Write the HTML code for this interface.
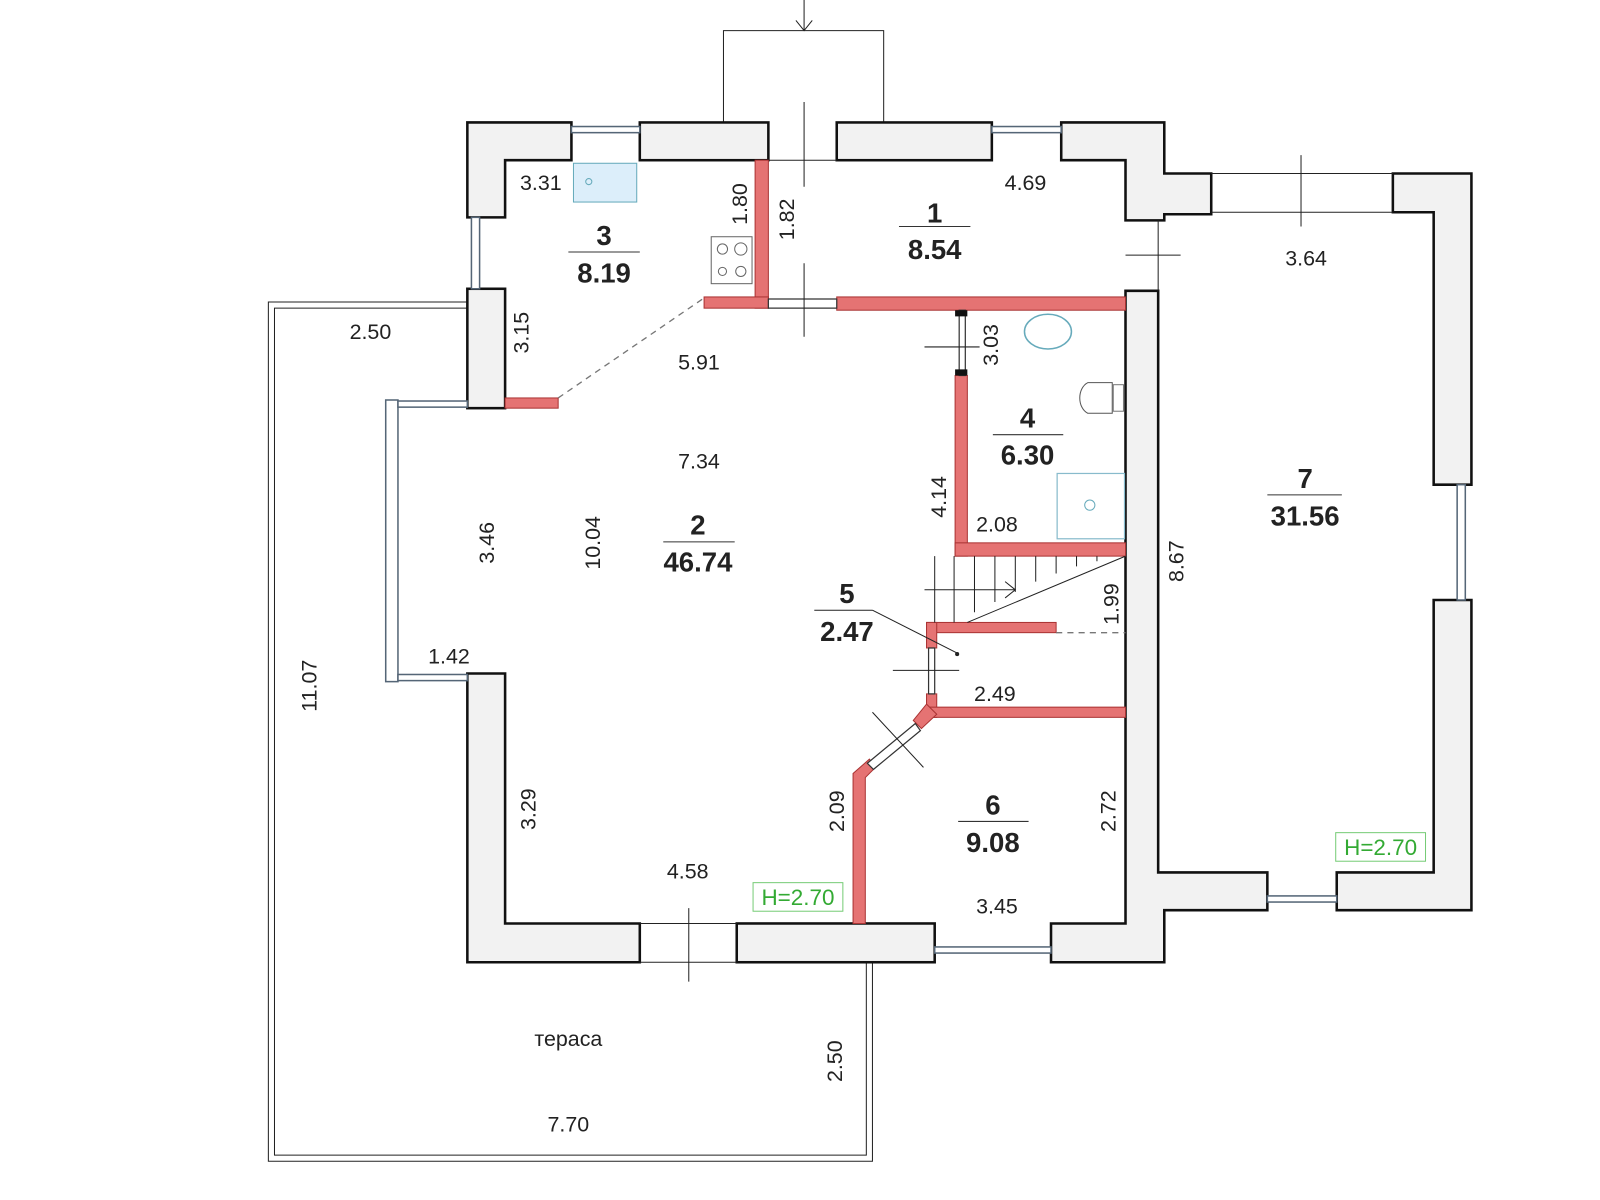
<!DOCTYPE html>
<html><head><meta charset="utf-8"><style>
html,body{margin:0;padding:0;background:#fff;}
svg{display:block}
text{font-family:"Liberation Sans",sans-serif;fill:#222}
.d{font-size:21px}
.n{font-size:27px;font-weight:bold}
.g{fill:#f2f2f2;stroke:#111;stroke-width:2.5}
.r{fill:#e57373;stroke:#a33;stroke-width:1}
.t{stroke:#222;stroke-width:1;fill:none}
.w{fill:#fff;stroke:#333;stroke-width:1.2}
.h{font-size:22px;fill:#3a3}
</style></head><body>
<svg width="1600" height="1200" viewBox="0 0 1568 1176" xmlns="http://www.w3.org/2000/svg">
<rect width="1568" height="1176" fill="#fff"/>
<path class="t" d="M458 296 H263 V1138 H855 V943" stroke-width="1.5"/>
<path class="t" d="M458 302 H269 V1132 H849 V943" stroke-width="1.5"/>
<path class="t" d="M709 120 V30 H866 V120" stroke-width="1.5"/>
<path class="t" d="M788 0 V30 M780 20 L788 30 L796 20"/>
<!-- outer walls -->
<path class="g" d="M458 120 H560 V157 H495 V213 H458 Z"/>
<rect class="g" x="627" y="120" width="126" height="37"/>
<rect class="g" x="820" y="120" width="152" height="37"/>
<path class="g" d="M1040 120 H1141 V170 H1187 V210 H1141 V216 H1103 V157 H1040 Z"/>
<path class="g" d="M1365 170 H1442 V475 H1405 V208 H1365 Z"/>
<path class="g" d="M1405 588 H1442 V892 H1310 V855 H1405 Z"/>
<path class="g" d="M1103 285 H1135 V855 H1242 V892 H1141 V943 H1030 V905 H1103 Z"/>
<rect class="g" x="458" y="283" width="37" height="117"/>
<path class="g" d="M458 660 H495 V905 H627 V943 H458 Z"/>
<rect class="g" x="722" y="905" width="194" height="38"/>
<!-- windows -->
<g stroke="#567" stroke-width="1.5" fill="#fff">
<rect x="560" y="124" width="67" height="6"/>
<rect x="972" y="124" width="68" height="6"/>
<rect x="462" y="213" width="8" height="70"/>
<rect x="378" y="392" width="12" height="276"/>
<rect x="390" y="393" width="68" height="6"/>
<rect x="390" y="661" width="68" height="6"/>
<rect x="1428" y="475" width="8" height="113"/>
<rect x="1242" y="878" width="68" height="6"/>
<rect x="916" y="928" width="114" height="6"/>
</g>
<path class="t" d="M1187 170 H1365 M1187 208 H1365 M1135 216 V285 M753 157 H820 M627 943 H722 M627 905 H722"/>
<!-- red partitions -->
<rect class="r" x="495" y="390" width="52" height="10"/>
<rect class="r" x="740" y="157" width="13" height="145"/>
<rect class="r" x="690" y="291" width="63" height="11"/>
<rect class="r" x="820" y="291" width="283" height="13"/>
<rect class="r" x="936" y="368" width="12" height="177"/>
<rect class="r" x="936" y="532" width="167" height="13"/>
<rect class="r" x="908" y="610" width="127" height="10"/>
<rect class="r" x="908" y="610" width="10" height="25"/>
<rect class="r" x="908" y="680" width="10" height="23"/>
<rect class="r" x="908" y="693" width="195" height="10"/>
<path class="r" d="M908 690 L918 700 L903 714 L895 706 Z"/>
<path class="r" d="M836 905 V758 L852 744 L858 752 L848 762 V905 Z"/>
<path class="w" d="M753 293 H820 V302 H753 Z M940 304 H946 V368 H940 Z M910 635 H916 V680 H910 Z M850 748 L897 709 L902 716 L856 754 Z"/>
<path d="M936 304 h12 v6 h-12z M936 362 h12 v6 h-12z" fill="#111"/>
<path d="M547 390 L690 292 M1035 620 H1103" stroke="#777" stroke-width="1.3" stroke-dasharray="6,5"/>
<g class="t">
<path d="M916 545 V610 M935 545 V610 M955 545 V600 M975 545 V590 M995 545 V580 M1015 545 V570 M1035 545 V562 M1055 545 V555 M1075 545 V550"/>
<path d="M948 610 L1103 545 M906 578 H995 M985 570 L995 578 L985 586"/>
<path d="M855 598 L938 640"/>
<path d="M798 598 H855"/>
</g>
<circle cx="938" cy="641" r="2" fill="#222"/>
<g class="t">
<path d="M788 100 V183 M788 258 V330 M1103 250 H1157 M1275 152 V222 M906 340 H960 M875 657 H940 M675 890 V962 M855 698 L905 752"/>
</g>
<rect x="562" y="160" width="62" height="38" fill="#dceefa" stroke="#6ab" stroke-width="1"/>
<circle cx="577" cy="178" r="3" fill="none" stroke="#6ab"/>
<rect x="697" y="232" width="40" height="46" fill="#fff" stroke="#666"/>
<circle cx="708" cy="244" r="5" fill="none" stroke="#666"/><circle cx="726" cy="244" r="6" fill="none" stroke="#666"/>
<circle cx="708" cy="266" r="4" fill="none" stroke="#666"/><circle cx="726" cy="266" r="5" fill="none" stroke="#666"/>
<ellipse cx="1027" cy="325" rx="23" ry="17" fill="none" stroke="#6ab" stroke-width="1.5"/>
<path d="M1090 375 H1066 A12 16 0 0 0 1066 405 H1090 Z" fill="#fff" stroke="#555"/>
<rect x="1091" y="377" width="10" height="26" fill="#fff" stroke="#777"/>
<rect x="1036" y="464" width="66" height="64" fill="#fff" stroke="#8bc" stroke-width="1.2"/>
<circle cx="1068" cy="495" r="5" fill="none" stroke="#6ab"/>
<text class="d" x="530" y="186" text-anchor="middle">3.31</text>
<text class="d" x="1005" y="186" text-anchor="middle">4.69</text>
<text class="d" x="1280" y="260" text-anchor="middle">3.64</text>
<text class="d" x="363" y="332" text-anchor="middle">2.50</text>
<text class="d" x="685" y="362" text-anchor="middle">5.91</text>
<text class="d" x="685" y="459" text-anchor="middle">7.34</text>
<text class="d" x="977" y="521" text-anchor="middle">2.08</text>
<text class="d" x="440" y="650" text-anchor="middle">1.42</text>
<text class="d" x="975" y="687" text-anchor="middle">2.49</text>
<text class="d" x="674" y="861" text-anchor="middle">4.58</text>
<text class="d" x="977" y="895" text-anchor="middle">3.45</text>
<text class="d" x="557" y="1025" text-anchor="middle">тераса</text>
<text class="d" x="557" y="1109" text-anchor="middle">7.70</text>
<g class="d" text-anchor="middle">
<text transform="translate(732,200) rotate(-90)">1.80</text>
<text transform="translate(778,215) rotate(-90)">1.82</text>
<text transform="translate(518,326) rotate(-90)">3.15</text>
<text transform="translate(978,338) rotate(-90)">3.03</text>
<text transform="translate(927,487) rotate(-90)">4.14</text>
<text transform="translate(484,532) rotate(-90)">3.46</text>
<text transform="translate(588,532) rotate(-90)">10.04</text>
<text transform="translate(1096,592) rotate(-90)">1.99</text>
<text transform="translate(1160,550) rotate(-90)">8.67</text>
<text transform="translate(310,672) rotate(-90)">11.07</text>
<text transform="translate(525,793) rotate(-90)">3.29</text>
<text transform="translate(827,795) rotate(-90)">2.09</text>
<text transform="translate(1093,795) rotate(-90)">2.72</text>
<text transform="translate(825,1040) rotate(-90)">2.50</text>
</g>
<g class="n" text-anchor="middle">
<text x="592" y="240">3</text><text x="592" y="277">8.19</text>
<text x="916" y="218">1</text><text x="916" y="254">8.54</text>
<text x="1007" y="419">4</text><text x="1007" y="455">6.30</text>
<text x="684" y="524">2</text><text x="684" y="560">46.74</text>
<text x="830" y="591">5</text><text x="830" y="628">2.47</text>
<text x="973" y="798">6</text><text x="973" y="835">9.08</text>
<text x="1279" y="478">7</text><text x="1279" y="515">31.56</text>
</g>
<g stroke="#333" stroke-width="1">
<path d="M557 247 H627 M881 222 H951 M973 426 H1042 M650 531 H720 M939 805 H1008 M1242 485 H1315"/>
</g>
<rect x="738" y="865" width="88" height="28" fill="#fff" stroke="#7c7"/>
<text class="h" x="782" y="887" text-anchor="middle">H=2.70</text>
<rect x="1309" y="816" width="88" height="28" fill="#fff" stroke="#7c7"/>
<text class="h" x="1353" y="838" text-anchor="middle">H=2.70</text>
</svg>
</body></html>
